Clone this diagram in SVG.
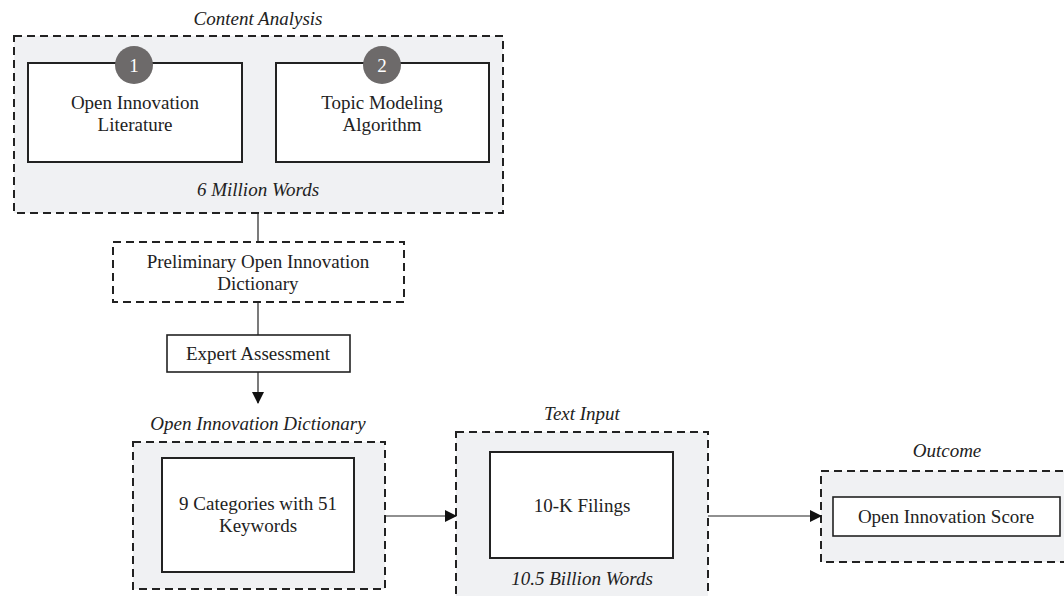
<svg xmlns="http://www.w3.org/2000/svg" width="1064" height="596" viewBox="0 0 1064 596">
<defs>
<style>
.grp{fill:#f0f1f3;stroke:#222;stroke-width:2;stroke-dasharray:8 5}
.dash{fill:#fff;stroke:#222;stroke-width:2;stroke-dasharray:8 5}
.box{fill:#fff;stroke:#222;stroke-width:2}
.t{font-family:"Liberation Serif","Times New Roman",serif;font-size:19px;fill:#222;text-anchor:middle}
.ti{font-family:"Liberation Serif","Times New Roman",serif;font-size:19px;font-style:italic;fill:#222;text-anchor:middle}
.num{font-family:"Liberation Serif","Times New Roman",serif;font-size:19px;fill:#fff;text-anchor:middle}
.badge{fill:#6d6a6a}
.conn{stroke:#222;stroke-width:1.2;fill:none}
</style>
<marker id="arr" markerUnits="userSpaceOnUse" markerWidth="12" markerHeight="12" refX="11" refY="6" orient="auto">
<path d="M0,0 L12,6 L0,12 Z" fill="#111"/>
</marker>
</defs>
<rect width="1064" height="596" fill="#fff"/>

<g id="content-analysis">
<text class="ti" x="258" y="25">Content Analysis</text>
<rect class="grp" x="14" y="36" width="489" height="177"/>
<text class="ti" x="258" y="196">6 Million Words</text>
</g>
<g id="oi-literature">
<rect class="box" x="28" y="63" width="214" height="99"/>
<circle class="badge" cx="134" cy="65" r="19"/>
<text class="num" x="134" y="72">1</text>
<text class="t" x="135" y="109">Open Innovation</text>
<text class="t" x="135" y="131">Literature</text>
</g>
<g id="topic-modeling">
<rect class="box" x="276" y="63" width="213" height="99"/>
<circle class="badge" cx="382" cy="65" r="19"/>
<text class="num" x="382" y="72">2</text>
<text class="t" x="382" y="109">Topic Modeling</text>
<text class="t" x="382" y="131">Algorithm</text>
</g>
<g id="preliminary">
<rect class="dash" x="113" y="242" width="291" height="60"/>
<text class="t" x="258" y="268">Preliminary Open Innovation</text>
<text class="t" x="258" y="290">Dictionary</text>
</g>
<g id="expert">
<rect class="box" x="167" y="335" width="183" height="37" style="stroke-width:1.6"/>
<text class="t" x="258" y="360">Expert Assessment</text>
</g>
<g id="dictionary">
<text class="ti" x="258" y="430">Open Innovation Dictionary</text>
<rect class="grp" x="133" y="442" width="252" height="147"/>
<rect class="box" x="162" y="458" width="192" height="114"/>
<text class="t" x="258" y="510">9 Categories with 51</text>
<text class="t" x="258" y="532">Keywords</text>
</g>
<g id="text-input">
<text class="ti" x="582" y="420">Text Input</text>
<rect class="grp" x="456" y="432" width="252" height="180"/>
<rect class="box" x="490" y="452" width="183" height="106"/>
<text class="t" x="582" y="512">10-K Filings</text>
<text class="ti" x="582" y="585">10.5 Billion Words</text>
</g>
<g id="outcome">
<text class="ti" x="947" y="457">Outcome</text>
<rect class="grp" x="821" y="471" width="260" height="91"/>
<rect class="box" x="833" y="497" width="227" height="39" style="stroke-width:1.6"/>
<text class="t" x="946" y="523">Open Innovation Score</text>
</g>
<g id="connectors">
<line class="conn" x1="258" y1="213" x2="258" y2="242"/>
<line class="conn" x1="258" y1="302" x2="258" y2="335"/>
<line class="conn" x1="258" y1="372" x2="258" y2="403" marker-end="url(#arr)"/>
<line class="conn" x1="385" y1="516" x2="456" y2="516" marker-end="url(#arr)"/>
<line class="conn" x1="708" y1="516" x2="821" y2="516" marker-end="url(#arr)"/>
</g>
</svg>
